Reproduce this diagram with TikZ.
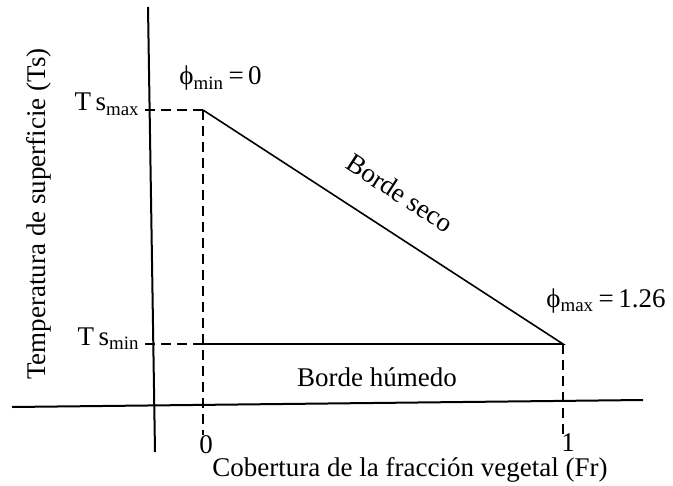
\documentclass[tikz,border=0pt]{standalone}
\usepackage{fontspec}
\setmainfont{Liberation Serif}

\tikzset{
  axisline/.style = {draw, line width=1pt},
  border/.style   = {draw, line width=0.8pt},
  guide/.style    = {draw, line width=0.75pt, dash pattern=on 5pt off 3pt},
  lbl/.style      = {inner sep=0pt, font=\fontsize{13.5}{16}\selectfont}
}

\begin{document}
\begin{tikzpicture}[x=0.5pt, y=-0.5pt]
\useasboundingbox (0,0) rectangle (673,486);

% axes
\coordinate (ytop) at (148,7);
\coordinate (ybot) at (155,452);
\coordinate (xleft) at (12,407);
\coordinate (xright) at (643,400);
\draw[axisline] (ytop) -- (ybot);
\draw[axisline] (xleft) -- (xright);

% corners of the triangle
\coordinate (tmax) at (203,110);
\coordinate (tmin) at (203,344);
\coordinate (fmax) at (563,344);

% labels on the axes
\node[lbl, anchor=base east] (tsmax) at (140,111) {T\,s\textsubscript{max}};
\node[lbl, anchor=base east] (tsmin) at (140,345) {T\,s\textsubscript{min}};
\node[lbl] (zero) at (206,445) {0};
\node[lbl] (one) at (568,443) {1};
\node[lbl] (xlab) at (410,470) {Cobertura de la fracción vegetal (Fr)};
\node[lbl, rotate=90] (ylab) at (39,214) {Temperatura de superficie (Ts)};

% guide lines
\draw[guide] (tmax) -- (tsmax.east |- tmax);
\draw[guide] (tmax) -- (zero.north -| tmax);
\draw[guide] (tmin) -- (tsmin.east |- tmin);
\draw[guide] (fmax) -- (one.north -| fmax);

% borders
\draw[border] (tmin) -- (fmax) -- (tmax);

\node[lbl, anchor=base west] (phimin) at (179,85) {ϕ\textsubscript{min}\,=\,0};
\node[lbl, anchor=base west] (phimax) at (546,307) {ϕ\textsubscript{max}\,=\,1.26};
\node[lbl, rotate=-33] (seco) at (400,193) {Borde seco};
\node[lbl] (humedo) at (377,377) {Borde húmedo};
\end{tikzpicture}
\end{document}
